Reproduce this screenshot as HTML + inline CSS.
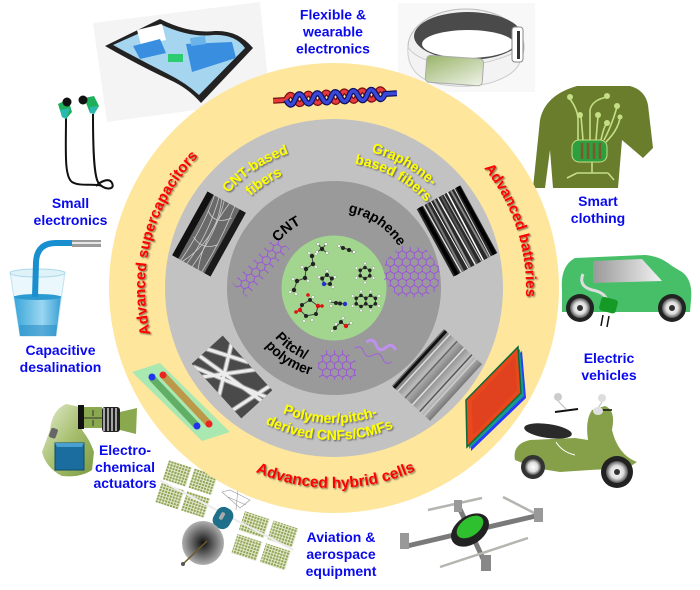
<!DOCTYPE html>
<html><head><meta charset="utf-8"><style>
html,body{margin:0;padding:0;background:#fff;}
svg{display:block;}
text{font-family:"Liberation Sans",Arial,sans-serif;font-weight:bold;}
</style></head><body>
<svg width="700" height="590" viewBox="0 0 700 590" xmlns="http://www.w3.org/2000/svg">
<defs>
 <filter id="sh" x="-20%" y="-20%" width="140%" height="140%"><feDropShadow dx="1.2" dy="1.2" stdDeviation="0.7" flood-color="#000" flood-opacity="0.5"/></filter>
 <pattern id="hex" width="7.967" height="13.8" patternUnits="userSpaceOnUse"><path d="M3.984,2.3 L7.967,4.6 L7.967,9.2 L3.984,11.5 L0,9.2 L0,4.6 Z M3.984,0 L3.984,2.3 M3.984,11.5 L3.984,13.8" fill="none" stroke="#9b3cf0" stroke-width="0.7"/></pattern>
 <pattern id="grid" width="3" height="3" patternUnits="userSpaceOnUse"><rect width="3" height="3" fill="#eef0dc"/><rect width="2.2" height="2.2" fill="#8fa555"/></pattern>
 <radialGradient id="dish"><stop offset="0" stop-color="#111"/><stop offset="1" stop-color="#b0b0b0"/></radialGradient>
 <radialGradient id="wheel"><stop offset="0" stop-color="#fff"/><stop offset="0.6" stop-color="#ddd"/><stop offset="1" stop-color="#555"/></radialGradient>
 <linearGradient id="win" x1="0" y1="0" x2="1" y2="0"><stop offset="0" stop-color="#999"/><stop offset="1" stop-color="#f2f2f2"/></linearGradient>
 <linearGradient id="disp" x1="0" y1="0" x2="1" y2="1"><stop offset="0" stop-color="#98b468"/><stop offset="1" stop-color="#f0f3ea"/></linearGradient>
 <linearGradient id="hand" x1="0" y1="0" x2="1" y2="1"><stop offset="0" stop-color="#e6eed4"/><stop offset="0.5" stop-color="#a8c070"/><stop offset="1" stop-color="#7a9a40"/></linearGradient>
 <linearGradient id="water" x1="0" y1="0" x2="1" y2="0"><stop offset="0" stop-color="#3aa6da"/><stop offset="0.6" stop-color="#9ad6f0"/><stop offset="1" stop-color="#3aa0d6"/></linearGradient>
 <linearGradient id="sem4" x1="0" y1="0" x2="1" y2="0"><stop offset="0" stop-color="#666"/><stop offset="0.3" stop-color="#bbb"/><stop offset="0.5" stop-color="#888"/><stop offset="0.75" stop-color="#c8c8c8"/><stop offset="1" stop-color="#777"/></linearGradient>
 <clipPath id="c1"><rect x="-22" y="-36.5" width="44" height="73"/></clipPath>
 <clipPath id="c2"><rect x="-25" y="-38.5" width="50" height="77"/></clipPath>
 <clipPath id="c3"><rect x="-21" y="-37" width="42" height="74"/></clipPath>
 <clipPath id="c4"><rect x="-26" y="-38.5" width="52" height="77"/></clipPath>
 <path id="p_sup" d="M200.4,421.6 A189,189 0 0 1 285.1,105.4"/>
 <path id="p_bat" d="M373.9,100.2 A192,192 0 0 1 476.7,416.5"/>
 <path id="p_hyb" d="M160.8,388 A200,200 0 0 0 508.9,385"/>
 <path id="p_cnt1" d="M192.3,296.4 A142,142 0 0 1 397.6,161"/>
 <path id="p_cnt2" d="M210.2,295.3 A124,124 0 0 1 389.5,177.1"/>
 <path id="p_gr1" d="M262.7,166.4 A141,141 0 0 1 475,287"/>
 <path id="p_gr2" d="M267.8,180.8 A126,126 0 0 1 459.9,284.3"/>
 <path id="p_po1" d="M215.1,352 A135,135 0 0 0 448.9,358.9"/>
 <path id="p_po2" d="M199.9,359.6 A152,152 0 0 0 463,368.3"/>
 <path id="p_cnt" d="M262.9,299.3 A72,72 0 0 1 359.8,220.8"/>
 <path id="p_gra" d="M300.2,218.8 A77,77 0 0 1 410.8,293.4"/>
 <path id="p_pit" d="M257.4,280 A77,77 0 0 0 365.3,358.3"/>
 <path id="p_pol" d="M244.1,283.9 A90,90 0 0 0 375.4,367.9"/>
</defs>

<rect width="700" height="590" fill="#fff"/>

<!-- Tablet -->
<polygon points="93,23 260,2 270,100 107,122" fill="#f4f4f4"/>
<path d="M105,46 L160,19 Q190,34 215,31 Q238,30 253,48 L201,103 Q188,88 170,80 Q140,66 105,46Z" fill="#222"/>
<path d="M113,45 L160,24 Q190,38 213,35 Q235,34 245,48 L199,95 Q186,83 168,74 Q140,60 113,45Z" fill="#a6d6ef"/>
<polygon points="137,30 162,24 166,40 141,45" fill="#fff"/>
<polygon points="133,46 160,39 166,53 140,59" fill="#3a8ee0"/>
<polygon points="186,44 232,42 236,58 192,72" fill="#3a8ee0"/>
<polygon points="190,38 205,36 206,44 191,46" fill="#6ab4ea"/>
<rect x="168" y="54" width="15" height="8" fill="#2ecc71"/>

<!-- Band -->
<rect x="398" y="3" width="137" height="89" fill="#f8f8f8"/>
<ellipse cx="466" cy="47" rx="58" ry="38" fill="#f0f0f0" stroke="#bbb"/>
<ellipse cx="468" cy="36" rx="54" ry="24" fill="#4a4a4a"/>
<ellipse cx="468" cy="44" rx="46" ry="14" fill="#fff"/>
<path d="M408,47 Q414,58 440,64 Q480,70 520,50 Q526,72 490,83 Q460,90 430,82 Q406,72 408,47Z" fill="#f3f3f3" stroke="#ccc"/>
<rect x="426" y="57" width="57" height="27" rx="4" fill="url(#disp)" stroke="#aaa" transform="rotate(4 454 70)"/>
<rect x="512" y="27" width="11" height="35" rx="3" fill="#fff" stroke="#888"/>
<rect x="517" y="31" width="3" height="28" fill="#333"/>

<!-- Earphones -->
<path d="M66,117 C66,150 64,176 72,182 C80,187 96,183 102,186" fill="none" stroke="#111" stroke-width="2"/>
<path d="M93,114 C93,150 94,175 98,182 C102,190 116,191 112,183 C109,177 100,182 96,186" fill="none" stroke="#111" stroke-width="2"/>
<polygon points="58,104 68,99 72,112 66,119 62,117" fill="#1fae5a"/>
<polygon points="60,110 70,108 66,119 62,117" fill="#2ab8b0"/>
<circle cx="67" cy="102" r="4.5" fill="#111"/>
<polygon points="84,98 94,96 99,106 94,114 90,113" fill="#1fae5a"/>
<polygon points="90,107 98,106 94,114 90,113" fill="#2ab8b0"/>
<circle cx="83" cy="100" r="4.5" fill="#111"/>

<!-- Glass -->
<polygon points="10,272 65,272 56,336 20,336" fill="#eaf7fc" stroke="#bfe3f0"/>
<polygon points="14,296 61,296 56,336 20,336" fill="url(#water)"/>
<polygon points="19,325 57,325 56,336 20,336" fill="#2c8fc8" opacity="0.6"/>
<ellipse cx="37.5" cy="273" rx="27.5" ry="4" fill="#dff2f8" stroke="#aad8ea"/>
<ellipse cx="37.5" cy="297" rx="23.5" ry="3" fill="#2a9ad0"/>
<path d="M75,243 L56,243 Q37,243 36,262 L35,297" fill="none" stroke="#1a8fd0" stroke-width="6"/>
<rect x="72" y="240" width="29" height="7" fill="#9a9a9a"/>
<rect x="72" y="242" width="29" height="2" fill="#e6e6e6"/>

<!-- Hand actuator -->
<path d="M50,430 Q52,410 66,404 L80,407 L82,430 Q90,440 94,452 L92,470 Q80,478 62,476 Q46,468 42,452 Z" fill="url(#hand)"/>
<rect x="50" y="428" width="7" height="10" rx="2" fill="#666" transform="rotate(20 53 433)"/>
<rect x="78" y="405" width="6" height="24" fill="#111"/>
<rect x="84" y="407" width="18" height="21" fill="#8aa84e"/>
<line x1="84" y1="418" x2="102" y2="418" stroke="#333" stroke-width="1"/>
<line x1="93" y1="410" x2="93" y2="416" stroke="#333"/>
<line x1="93" y1="420" x2="93" y2="426" stroke="#333"/>
<rect x="102" y="407" width="18" height="25" rx="3" fill="#222"/>
<g stroke="#ddd" stroke-width="1.4"><line x1="104" y1="408" x2="104" y2="431"/><line x1="108" y1="408" x2="108" y2="431"/><line x1="112" y1="408" x2="112" y2="431"/><line x1="116" y1="408" x2="116" y2="431"/></g>
<polygon points="120,412 137,408 136,434 120,430" fill="#8aa84e"/>
<rect x="55" y="443" width="29" height="27" fill="#1a6d9e" stroke="#0d4a70"/>
<polygon points="55,443 84,443 82,447 57,447" fill="#4aa0d0"/>

<!-- Shirt -->
<path d="M577,86 L630,86 Q645,90 648,105 L653,148 L643,158 L622,140 L618,188 L553,188 L550,150 L545,188 L533,188 L540,120 Q545,95 577,86 Z" fill="#6a7d2c"/>
<g stroke="#c5df85" stroke-width="1.6" fill="none">
<path d="M578,140 L578,120 Q578,110 570,99"/><path d="M583,140 L581,116"/><path d="M590,140 L590,110 Q592,100 607,97"/><path d="M596,140 L598,116"/><path d="M601,140 Q604,126 607,123"/><path d="M604,140 Q612,125 617,107"/><path d="M606,142 Q618,130 620,118"/>
<path d="M592,162 L592,173 M577,173 L608,173 M577,173 L567,178 M608,173 L614,180"/>
</g>
<g fill="#c5df85"><circle cx="570" cy="97" r="3"/><circle cx="580" cy="115" r="3"/><circle cx="598" cy="115" r="3"/><circle cx="607" cy="96" r="3"/><circle cx="617" cy="106" r="3"/><circle cx="607" cy="123" r="3"/><circle cx="620" cy="117" r="2.5"/></g>
<rect x="572" y="140" width="35" height="22" rx="7" fill="#2f9e3f" stroke="#c5df85"/>
<g stroke="#7a5a2a" stroke-width="2.5"><line x1="582" y1="143" x2="582" y2="159"/><line x1="588" y1="143" x2="588" y2="159"/><line x1="594" y1="143" x2="594" y2="159"/><line x1="600" y1="143" x2="600" y2="159"/></g>

<!-- Car -->
<path d="M562,290 Q560,266 575,258 L645,255 Q660,256 672,266 L682,272 Q693,280 691,300 L690,312 L562,312 Z" fill="#46bf68"/>
<polygon points="593,261 642,259 662,281 593,283" fill="url(#win)"/>
<circle cx="580" cy="308" r="14" fill="#222"/><circle cx="580" cy="308" r="10" fill="url(#wheel)"/><circle cx="580" cy="308" r="3" fill="#333"/>
<circle cx="672" cy="308" r="14" fill="#222"/><circle cx="672" cy="308" r="10" fill="url(#wheel)"/><circle cx="672" cy="308" r="3" fill="#333"/>
<path d="M583,274 Q578,286 592,290 Q604,292 607,300" fill="none" stroke="#ddd" stroke-width="3"/>
<rect x="600" y="298" width="17" height="14" rx="3" fill="#159a25" transform="rotate(15 608 305)"/>
<line x1="603" y1="315" x2="601" y2="326" stroke="#111" stroke-width="1.5"/><line x1="609" y1="316" x2="607" y2="327" stroke="#111" stroke-width="1.5"/>

<!-- Scooter -->
<path d="M515,460 Q512,444 530,440 L575,438 L588,440 Q585,420 592,410 L605,406 Q616,410 612,430 Q618,455 637,462 L628,468 L590,470 L560,472 L535,468 Z" fill="#86a04a"/>
<ellipse cx="548" cy="431" rx="24" ry="7" fill="#2a2a2a" transform="rotate(8 548 431)"/>
<path d="M556,442 Q562,452 575,455" fill="none" stroke="#fff" stroke-width="1"/>
<circle cx="533" cy="467" r="12" fill="#333"/><circle cx="533" cy="467" r="8" fill="url(#wheel)"/>
<circle cx="617" cy="472" r="16" fill="#222"/><circle cx="617" cy="472" r="11" fill="url(#wheel)"/><circle cx="617" cy="472" r="3" fill="#333"/>
<line x1="555" y1="412" x2="578" y2="409" stroke="#111" stroke-width="2"/>
<line x1="600" y1="410" x2="612" y2="410" stroke="#111" stroke-width="1.5"/>
<circle cx="558" cy="397" r="4" fill="#ccc"/><circle cx="602" cy="398" r="4" fill="#ddd"/>
<line x1="558" y1="401" x2="566" y2="409" stroke="#bbb"/><line x1="602" y1="402" x2="598" y2="408" stroke="#bbb"/>
<ellipse cx="598" cy="411" rx="5" ry="4" fill="#e0e0e0"/>

<!-- Drone -->
<line x1="407" y1="546" x2="540" y2="515" stroke="#7a7a7a" stroke-width="5"/>
<line x1="458" y1="505" x2="486" y2="565" stroke="#7a7a7a" stroke-width="5"/>
<g stroke="#b5b5b0" stroke-width="2.5"><line x1="428" y1="510" x2="482" y2="498"/><line x1="503" y1="497" x2="542" y2="517"/><line x1="440" y1="567" x2="528" y2="538"/></g>
<rect x="400" y="533" width="9" height="16" fill="#999"/><rect x="534" y="508" width="9" height="14" fill="#999"/><rect x="481" y="555" width="10" height="16" fill="#888"/><rect x="454" y="500" width="8" height="12" fill="#999"/>
<ellipse cx="470" cy="530" rx="21" ry="14" fill="#222" transform="rotate(-35 470 530)"/>
<ellipse cx="470" cy="527" rx="15" ry="9" fill="#2ec02e" transform="rotate(-35 470 527)"/>

<!-- Satellite -->
<g transform="rotate(18 222 530)">
<rect x="150" y="480" width="24" height="20" fill="url(#grid)"/><rect x="177" y="480" width="24" height="20" fill="url(#grid)"/>
<rect x="150" y="504" width="24" height="20" fill="url(#grid)"/><rect x="177" y="504" width="24" height="20" fill="url(#grid)"/>
<rect x="238" y="505" width="26" height="20" fill="url(#grid)"/><rect x="268" y="505" width="26" height="20" fill="url(#grid)"/>
<rect x="238" y="529" width="26" height="20" fill="url(#grid)"/><rect x="268" y="529" width="26" height="20" fill="url(#grid)"/>
<line x1="148" y1="502" x2="296" y2="527" stroke="#ececec" stroke-width="2"/>
</g>
<g stroke="#999" stroke-width="0.6" fill="none"><path d="M222,492 L240,508 L250,500 L230,490 Z M228,497 L246,505 M238,488 L236,510"/></g>
<rect x="214" y="507" width="18" height="22" rx="8" fill="#1d6f8a" transform="rotate(30 223 518)"/>
<rect x="220" y="512" width="4" height="8" rx="2" fill="#aaa" transform="rotate(30 222 516)"/>
<ellipse cx="203" cy="543" rx="21" ry="22" fill="url(#dish)"/>
<line x1="183" y1="564" x2="207" y2="541" stroke="#6b5a2a" stroke-width="1.5"/>
<circle cx="183" cy="564" r="2" fill="#555"/>

<!-- Rings -->
<circle cx="334" cy="288" r="225" fill="#fee69d"/>
<circle cx="334" cy="288" r="169" fill="#c2c2c2"/>
<circle cx="334" cy="288" r="107" fill="#9a9a9a"/>
<circle cx="334" cy="288" r="52.5" fill="#a2d68f"/>

<!-- Rope -->
<g transform="rotate(-3.5 335 97)" fill="none">
<path d="M273,97 L286,97 q4.5,-10 9,0 t9,0 t9,0 t9,0 t9,0 t9,0 t9,0 t9,0 t9,0 t9,0 t9,0" stroke="#7a1010" stroke-width="6"/>
<path d="M273,97 L286,97 q4.5,-10 9,0 t9,0 t9,0 t9,0 t9,0 t9,0 t9,0 t9,0 t9,0 t9,0 t9,0" stroke="#e83a3a" stroke-width="3.5"/>
<path d="M286,97 q4.5,10 9,0 t9,0 t9,0 t9,0 t9,0 t9,0 t9,0 t9,0 t9,0 t9,0 t9,0 L397,97" stroke="#101060" stroke-width="6"/>
<path d="M286,97 q4.5,10 9,0 t9,0 t9,0 t9,0 t9,0 t9,0 t9,0 t9,0 t9,0 t9,0 t9,0 L397,97" stroke="#3a48d8" stroke-width="3.5"/>
</g>

<!-- Green plate with tubes -->
<polygon points="132,372 160,363 230,432 202,441" fill="#8ee8b8" opacity="0.75"/>
<line x1="152" y1="378" x2="197" y2="426" stroke="#5aa860" stroke-width="7" opacity="0.9"/>
<line x1="163" y1="375" x2="209" y2="424" stroke="#c0903e" stroke-width="7" opacity="0.9"/>
<circle cx="152" cy="377" r="3.5" fill="#2233ee"/><circle cx="163" cy="375" r="3.5" fill="#ee2222"/>
<circle cx="197" cy="426" r="3.5" fill="#2233ee"/><circle cx="209" cy="424" r="3.5" fill="#ee2222"/>

<!-- Red plate -->
<polygon points="470,404 522,351 526,398 471,451" fill="#2a3aff"/>
<polygon points="468,402 520,349 524,396 469,449" fill="#1a9a8a"/>
<polygon points="466,400 518,347 521,393 467,447" fill="#e8481c" stroke="#0a6a3a" stroke-width="1.5"/>
<polygon points="472,402 515,357 517,390 473,435" fill="#d83a20" opacity="0.5"/>

<!-- SEM 1 -->
<g transform="translate(209,234) rotate(29)"><g clip-path="url(#c1)">
<rect x="-22" y="-36.5" width="44" height="73" fill="#6a6a6a"/>
<rect x="-22" y="-36.5" width="7" height="73" fill="#111"/><rect x="15" y="-36.5" width="7" height="73" fill="#1a1a1a"/>
<g fill="none" stroke="#e4e4e4" stroke-width="0.8" opacity="0.8">
<path d="M-14,-37 Q-8,0 -12,37"/><path d="M-9,-37 Q0,0 -5,37"/><path d="M-3,-37 Q6,-5 1,37"/><path d="M3,-37 Q-3,10 8,37"/><path d="M9,-37 Q14,0 12,37"/><path d="M-12,-20 Q0,-10 12,-25"/><path d="M-12,10 Q2,18 13,5"/><path d="M-6,-37 Q10,0 -10,37"/></g>
</g></g>

<!-- SEM 2 -->
<g transform="translate(457,231) rotate(-28.6)"><g clip-path="url(#c2)">
<rect x="-25" y="-38.5" width="50" height="77" fill="#2a2a2a"/>
<g stroke-width="2">
<line x1="-21" y1="-39" x2="-21" y2="39" stroke="#000" stroke-width="4"/>
<line x1="-17" y1="-39" x2="-16" y2="39" stroke="#ddd" stroke-width="1.5"/>
<line x1="-13" y1="-39" x2="-14" y2="39" stroke="#777"/>
<line x1="-9" y1="-39" x2="-8" y2="39" stroke="#fff" stroke-width="1"/>
<line x1="-5" y1="-39" x2="-6" y2="39" stroke="#999"/>
<line x1="-1" y1="-39" x2="0" y2="39" stroke="#eee" stroke-width="1.5"/>
<line x1="3" y1="-39" x2="2" y2="39" stroke="#555"/>
<line x1="6" y1="-39" x2="7" y2="39" stroke="#ccc" stroke-width="1"/>
<line x1="10" y1="-39" x2="9" y2="39" stroke="#fff" stroke-width="1.5"/>
<line x1="14" y1="-39" x2="15" y2="39" stroke="#888"/>
<line x1="18" y1="-39" x2="17" y2="39" stroke="#ddd" stroke-width="1"/>
<line x1="22" y1="-39" x2="22" y2="39" stroke="#000" stroke-width="4"/>
</g></g></g>

<!-- SEM 3 -->
<g transform="translate(232,377) rotate(-42.2)"><g clip-path="url(#c3)">
<rect x="-21" y="-37" width="42" height="74" fill="#4a4a4a"/>
<g fill="none" stroke="#9a9a9a" stroke-width="5"><path d="M-22,-20 L22,10"/><path d="M-22,5 L22,-25"/><path d="M-10,-38 L6,38"/><path d="M-22,25 L22,32"/><path d="M0,-38 L22,0"/><path d="M-22,-34 L12,38"/></g>
<g fill="none" stroke="#ececec" stroke-width="3"><path d="M-22,-20 L22,10"/><path d="M-22,5 L22,-25"/><path d="M-10,-38 L6,38"/><path d="M-22,25 L22,32"/><path d="M0,-38 L22,0"/><path d="M-22,-34 L12,38"/></g>
</g></g>

<!-- SEM 4 -->
<g transform="translate(437,375) rotate(42.5)"><g clip-path="url(#c4)">
<rect x="-26" y="-38.5" width="52" height="77" fill="url(#sem4)"/>
<g stroke-width="1.5"><line x1="-18" y1="-39" x2="-18" y2="39" stroke="#ddd"/><line x1="-8" y1="-39" x2="-8" y2="39" stroke="#666"/><line x1="2" y1="-39" x2="2" y2="39" stroke="#e0e0e0"/><line x1="12" y1="-39" x2="12" y2="39" stroke="#555"/><line x1="18" y1="-39" x2="18" y2="39" stroke="#ccc"/></g>
<line x1="-23" y1="-39" x2="-23" y2="39" stroke="#111" stroke-width="3"/>
</g></g>

<!-- Purple nets -->
<g transform="translate(261,266.5) rotate(-48)"><rect x="-32" y="-9.5" width="64" height="19" fill="url(#hex)"/></g>
<polygon points="385,262 400,246 425,248 440,268 438,290 420,298 398,296 384,282" fill="url(#hex)"/>
<polygon points="318,362 323,350 345,350 356,362 356,380 335,380 319,378" fill="url(#hex)"/>
<path d="M353,354 q5,-6 10,0 t10,0 t10,0 t10,0" fill="none" stroke="#a060e0" stroke-width="1" transform="rotate(20 370 355)"/>
<path d="M366,346 q5,-7 10,0 t10,0 t10,0" fill="none" stroke="#c090f0" stroke-width="3" transform="rotate(15 380 346)"/>

<!-- Molecules -->
<g stroke="#444" stroke-width="1" fill="none">
<path d="M318,244 L322,249 L326,244 M317,252 L322,249 L327,253"/>
<path d="M339,246 L354,252"/>
<path d="M294,290 L297,281 L305,278 L306,269 L313,264 L312,256"/>
<path d="M327,275 L331.8,278.5 L330,284 L324,284 L322.2,278.5 Z"/>
<path d="M365,267.5 L369.8,270.3 L369.8,275.8 L365,278.5 L360.2,275.8 L360.2,270.3 Z"/>
<path d="M361,295.5 L365.8,298.3 L365.8,303.8 L361,306.5 L356.2,303.8 L356.2,298.3 Z M365.8,298.3 L370.6,295.5 L375.4,298.3 L375.4,303.8 L370.6,306.5 L365.8,303.8"/>
<path d="M330,302 L345,304"/>
<path d="M302,305 L310,300 L318,306 L316,314 L306,316 L300,310 Z M300,310 L296,312 M318,306 L322,306"/>
<path d="M335,328 L341,322 L346,326 L351,323"/>
</g>
<g fill="#222">
<circle cx="322" cy="249" r="2.2"/><circle cx="343" cy="248" r="2"/><circle cx="349" cy="250" r="2"/>
<circle cx="294" cy="290" r="2.2"/><circle cx="297" cy="281" r="2.2"/><circle cx="305" cy="278" r="2.2"/><circle cx="306" cy="269" r="2.2"/><circle cx="313" cy="264" r="2.2"/><circle cx="312" cy="256" r="2.2"/>
<circle cx="327" cy="275" r="2"/><circle cx="331.8" cy="278.5" r="2"/><circle cx="330" cy="284" r="2"/><circle cx="322.2" cy="278.5" r="2"/>
<circle cx="365" cy="267.5" r="1.8"/><circle cx="369.8" cy="270.3" r="1.8"/><circle cx="369.8" cy="275.8" r="1.8"/><circle cx="365" cy="278.5" r="1.8"/><circle cx="360.2" cy="275.8" r="1.8"/><circle cx="360.2" cy="270.3" r="1.8"/>
<circle cx="361" cy="295.5" r="1.8"/><circle cx="356.2" cy="298.3" r="1.8"/><circle cx="356.2" cy="303.8" r="1.8"/><circle cx="361" cy="306.5" r="1.8"/><circle cx="365.8" cy="298.3" r="1.8"/><circle cx="365.8" cy="303.8" r="1.8"/><circle cx="370.6" cy="295.5" r="1.8"/><circle cx="375.4" cy="298.3" r="1.8"/><circle cx="375.4" cy="303.8" r="1.8"/><circle cx="370.6" cy="306.5" r="1.8"/>
<circle cx="336" cy="303" r="2"/><circle cx="340" cy="303.5" r="2"/>
<circle cx="310" cy="300" r="2"/><circle cx="302" cy="305" r="2"/><circle cx="306" cy="316" r="2"/><circle cx="316" cy="314" r="2"/>
<circle cx="335" cy="328" r="2"/><circle cx="341" cy="322" r="2"/>
</g>
<circle cx="324" cy="284" r="2.2" fill="#2233cc"/>
<circle cx="345" cy="304" r="2.2" fill="#2233cc"/>
<g fill="#e01010"><circle cx="318" cy="306" r="2.2"/><circle cx="300" cy="310" r="2.2"/><circle cx="296" cy="312" r="1.8"/><circle cx="322" cy="306" r="1.8"/><circle cx="308" cy="295" r="1.8"/><circle cx="346" cy="326" r="2.2"/></g>
<g fill="#fff" stroke="#888" stroke-width="0.4">
<circle cx="318" cy="244" r="1.4"/><circle cx="326" cy="244" r="1.4"/><circle cx="317" cy="252" r="1.4"/><circle cx="327" cy="253" r="1.4"/>
<circle cx="339" cy="246" r="1.4"/><circle cx="354" cy="252" r="1.4"/>
<circle cx="290" cy="292" r="1.3"/><circle cx="296" cy="294" r="1.3"/><circle cx="293" cy="279" r="1.3"/><circle cx="308" cy="281" r="1.3"/><circle cx="302" cy="267" r="1.3"/><circle cx="316" cy="267" r="1.3"/><circle cx="309" cy="253" r="1.3"/><circle cx="316" cy="254" r="1.3"/>
<circle cx="327" cy="271" r="1.3"/><circle cx="335" cy="277" r="1.3"/><circle cx="319" cy="277" r="1.3"/><circle cx="333" cy="287" r="1.3"/>
<circle cx="365" cy="263.5" r="1.3"/><circle cx="373.5" cy="268" r="1.3"/><circle cx="373.5" cy="278" r="1.3"/><circle cx="365" cy="282.5" r="1.3"/><circle cx="356.5" cy="278" r="1.3"/><circle cx="356.5" cy="268" r="1.3"/>
<circle cx="361" cy="291.5" r="1.3"/><circle cx="352.5" cy="296" r="1.3"/><circle cx="352.5" cy="306" r="1.3"/><circle cx="361" cy="310.5" r="1.3"/><circle cx="370.6" cy="291.5" r="1.3"/><circle cx="379" cy="296" r="1.3"/><circle cx="379" cy="306" r="1.3"/><circle cx="370.6" cy="310.5" r="1.3"/>
<circle cx="330" cy="301" r="1.3"/><circle cx="331" cy="306" r="1.3"/>
<circle cx="312" cy="320" r="1.3"/><circle cx="304" cy="321" r="1.3"/><circle cx="313" cy="297" r="1.3"/>
<circle cx="332" cy="331" r="1.3"/><circle cx="336" cy="324" r="1.3"/><circle cx="343" cy="318" r="1.3"/><circle cx="351" cy="323" r="1.3"/>
</g>

<!-- Curved ring texts -->
<g font-size="15" fill="#ff0000" filter="url(#sh)">
<text><textPath href="#p_sup" startOffset="50%" text-anchor="middle">Advanced supercapacitors</textPath></text>
<text><textPath href="#p_bat" startOffset="50%" text-anchor="middle">Advanced batteries</textPath></text>
<text font-size="15.5"><textPath href="#p_hyb" startOffset="50%" text-anchor="middle">Advanced hybrid cells</textPath></text>
</g>
<g font-size="14" fill="#ffff00" filter="url(#sh)">
<text><textPath href="#p_cnt1" startOffset="50%" text-anchor="middle">CNT-based</textPath></text>
<text><textPath href="#p_cnt2" startOffset="50%" text-anchor="middle">fibers</textPath></text>
<text><textPath href="#p_gr1" startOffset="50%" text-anchor="middle">Graphene-</textPath></text>
<text><textPath href="#p_gr2" startOffset="50%" text-anchor="middle">based fibers</textPath></text>
<text><textPath href="#p_po1" startOffset="50%" text-anchor="middle">Polymer/pitch-</textPath></text>
<text><textPath href="#p_po2" startOffset="50%" text-anchor="middle">derived CNFs/CMFs</textPath></text>
</g>
<g font-size="14.5" fill="#000">
<text><textPath href="#p_cnt" startOffset="50%" text-anchor="middle">CNT</textPath></text>
<text font-size="14"><textPath href="#p_gra" startOffset="50%" text-anchor="middle">graphene</textPath></text>
<text font-size="14"><textPath href="#p_pit" startOffset="50%" text-anchor="middle">Pitch/</textPath></text>
<text font-size="14"><textPath href="#p_pol" startOffset="50%" text-anchor="middle">polymer</textPath></text>
</g>

<!-- Blue labels -->
<g font-size="14" fill="#0a0aee" text-anchor="middle">
<text x="333" y="19.5">Flexible &amp;</text><text x="333" y="36.5">wearable</text><text x="333" y="53.5">electronics</text>
<text x="70.5" y="208">Small</text><text x="70.5" y="225">electronics</text>
<text x="60.5" y="355">Capacitive</text><text x="60.5" y="372">desalination</text>
<text x="125" y="455">Electro-</text><text x="125" y="472">chemical</text><text x="125" y="488">actuators</text>
<text x="341" y="542">Aviation &amp;</text><text x="341" y="559">aerospace</text><text x="341" y="576">equipment</text>
<text x="598" y="206">Smart</text><text x="598" y="223">clothing</text>
<text x="609" y="363">Electric</text><text x="609" y="380">vehicles</text>
</g>
</svg>
</body></html>
